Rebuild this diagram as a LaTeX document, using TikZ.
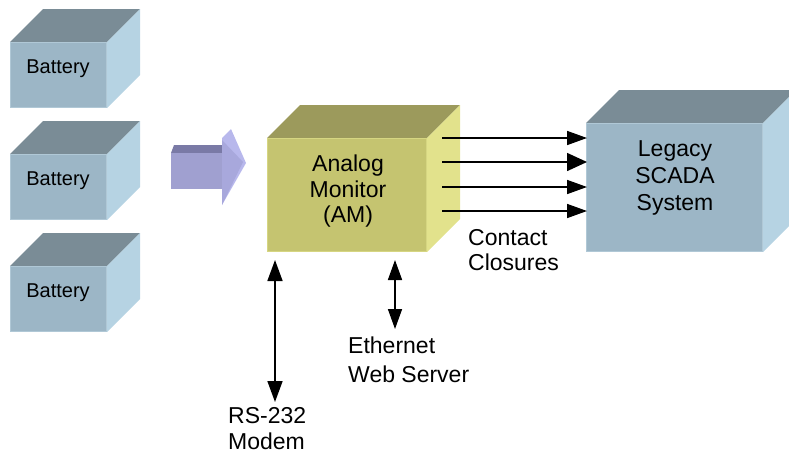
\documentclass[tikz,border=0pt]{standalone}
\usepackage{fontspec}
\setmainfont{Liberation Sans}
\usetikzlibrary{arrows.meta}
\definecolor{bfront}{RGB}{156,182,198}
\definecolor{bedge}{RGB}{176,200,214}
\definecolor{btop}{RGB}{122,140,150}
\definecolor{bside}{RGB}{182,211,227}
\definecolor{afront}{RGB}{197,196,112}
\definecolor{aedge}{RGB}{214,214,130}
\definecolor{atop}{RGB}{156,154,92}
\definecolor{aside}{RGB}{226,226,140}
\definecolor{pfront}{RGB}{160,160,208}
\definecolor{ptop}{RGB}{122,122,166}
\definecolor{phead}{RGB}{168,168,220}
\definecolor{pheadl}{RGB}{184,184,236}
% #1 left x, #2 top y, #3 right x, #4 bottom y, #5 depth, #6 front, #7 top, #8 side, #9 edge
\newcommand{\mycube}[9]{%
  \fill[#7] (#1,#2) -- (#1+#5,#2-#5) -- (#3+#5,#2-#5) -- (#3,#2) -- cycle;
  \fill[#8] (#3,#2) -- (#3+#5,#2-#5) -- (#3+#5,#4-#5) -- (#3,#4) -- cycle;
  \fill[#6] (#1,#2) rectangle (#3,#4);
  \draw[#9, line width=1.2pt] (#1+0.6,#2+0.6) rectangle (#3-0.6,#4-0.6);
}
\begin{document}
\begin{tikzpicture}[x=1pt,y=-1pt,
  lbl/.style={inner sep=0pt, font=\fontsize{23}{26}\selectfont},
  battxt/.style={inner sep=0pt, font=\fontsize{20}{24}\selectfont},
  harrow/.style={line width=1.6pt, -{Triangle[length=20pt,width=14pt]}},
  harrowb/.style={line width=1.6pt, -{Triangle[length=20pt,width=18pt]}},
  varrow/.style={line width=1.6pt, {Triangle[length=21pt,width=15pt]}-{Triangle[length=21pt,width=15pt]}},
  varrows/.style={line width=1.6pt, {Triangle[length=20pt,width=14pt]}-{Triangle[length=20pt,width=14pt]}}
]
\useasboundingbox (0,0) rectangle (789,453);

% batteries
\mycube{10}{42}{107}{108}{33}{bfront}{btop}{bside}{bedge}
\mycube{10}{154}{107}{220}{33}{bfront}{btop}{bside}{bedge}
\mycube{10}{266}{107}{332}{33}{bfront}{btop}{bside}{bedge}
\node[battxt, anchor=north] (bat1) at (58,60) {Battery};
\node[battxt, anchor=north] (bat2) at (58,172) {Battery};
\node[battxt, anchor=north] (bat3) at (58,284) {Battery};

% block arrow
\fill[ptop] (171,153) -- (174,145) -- (222,145) -- (222,153) -- cycle;
\fill[pfront] (171,153) rectangle (222,189);
\fill[pheadl] (222,138) -- (231,129) -- (246,163) -- (222,205) -- cycle;
\fill[phead] (222,140) -- (243,162) -- (222,205) -- cycle;

% analog monitor
\mycube{267}{138}{427}{252}{33}{afront}{atop}{aside}{aedge}
\node[lbl, anchor=north, align=center, font=\fontsize{23}{25.5}\selectfont] (am) at (348,155) {Analog\\Monitor\\(AM)};

% SCADA
\mycube{586}{123}{763}{252}{33}{bfront}{btop}{bside}{bedge}
\node[lbl, anchor=north, align=center, font=\fontsize{23}{27}\selectfont] (scada) at (675,140) {Legacy\\SCADA\\System};

% contact closure arrows
\coordinate (c1s) at (442,138); \coordinate (c1e) at (587,138);
\coordinate (c2s) at (442,162); \coordinate (c2e) at (587,162);
\coordinate (c3s) at (442,187); \coordinate (c3e) at (587,187);
\coordinate (c4s) at (442,211); \coordinate (c4e) at (587,211);
\draw[harrow] (c1s) -- (c1e);
\draw[harrowb] (c2s) -- (c2e);
\draw[harrow] (c3s) -- (c3e);
\draw[harrow] (c4s) -- (c4e);
\node[lbl, anchor=north west, align=left, font=\fontsize{23}{25}\selectfont] (contact) at (468,229) {Contact\\Closures};

% vertical arrows
\coordinate (rst) at (275,260); \coordinate (rsb) at (275,402);
\coordinate (ett) at (395,260); \coordinate (etb) at (395,329);
\draw[varrow] (rst) -- (rsb);
\draw[varrows] (ett) -- (etb);
\node[lbl, anchor=north west, align=left, font=\fontsize{23}{29}\selectfont] (eth) at (348,337) {Ethernet\\Web Server};
\node[lbl, anchor=north west, align=left, font=\fontsize{23}{26}\selectfont] (rs) at (228,407) {RS-232\\Modem};
\end{tikzpicture}
\end{document}
